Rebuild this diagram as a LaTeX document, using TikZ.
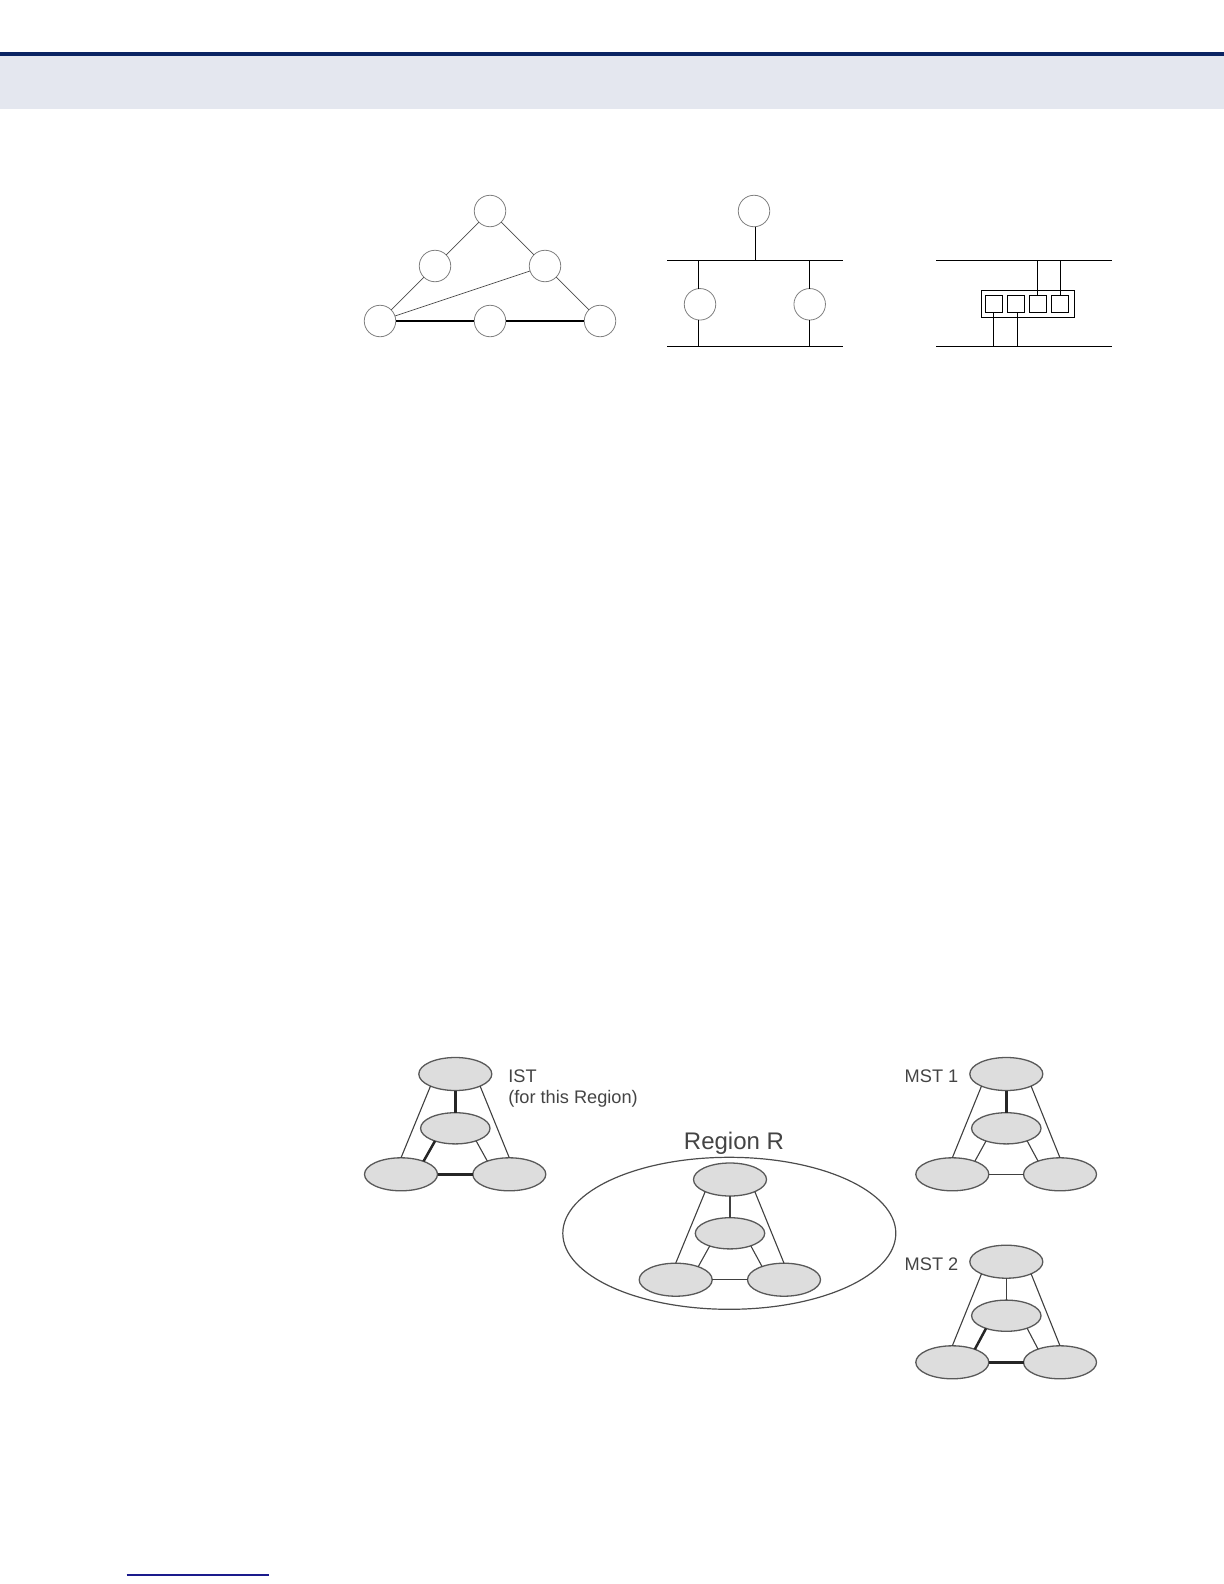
\documentclass[tikz,border=0pt]{standalone}
\usepackage{fontspec}
\setmainfont{Liberation Sans}
\usepackage{tikz}
\usetikzlibrary{shapes.geometric}
\definecolor{headnavy}{HTML}{0A2463}
\definecolor{headband}{HTML}{E4E7EF}
\definecolor{footblue}{HTML}{1A1A8C}
\definecolor{bridgefill}{HTML}{DDDDDD}
\definecolor{labelgray}{HTML}{444444}

\begin{document}
\begin{tikzpicture}[
  x=0.5pt, y=-0.5pt,
  node/.style={draw=gray, circle, line width=0.4pt, minimum size=15.75pt, inner sep=0pt, outer sep=0pt},
  port/.style={draw, line width=0.6pt, minimum size=8.7pt, inner sep=0pt, outer sep=0pt},
  case/.style={draw, line width=0.6pt, minimum width=46.7pt, minimum height=13.5pt, inner sep=0pt, outer sep=0pt},
  bridge/.style={draw=black!65, ellipse, fill=bridgefill, line width=0.65pt, minimum width=36.5pt, minimum height=16.5pt, inner sep=0pt, outer sep=0pt},
  midbridge/.style={bridge, minimum width=34.7pt, minimum height=15.6pt},
  region/.style={draw=black!70, ellipse, line width=0.6pt, minimum width=166.5pt, minimum height=76pt, inner sep=0pt, outer sep=0pt},
  link/.style={line width=0.55pt, black!75},
  tree/.style={line width=1.25pt, black!85},
  lan/.style={line width=0.6pt, black},
  diag/.style={line width=0.35pt, black!70},
  tag/.style={font=\fontsize{9.1}{10.5}\selectfont, text=labelgray, align=left, inner sep=0pt, outer sep=0pt}
]
\useasboundingbox (0,0) rectangle (1224,1584);

% page header and footer rule
\node[fill=headband, minimum width=612pt, minimum height=26.5pt, inner sep=0pt, outer sep=0pt] (band) at (612,82.2) {};
\node[fill=headnavy, minimum width=612pt, minimum height=2pt, inner sep=0pt, outer sep=0pt] (rule) at (612,54) {};
\coordinate (footl) at (126.7,1575);
\coordinate (footr) at (269,1575);
\draw[footblue, line width=0.65pt] (footl) -- (footr);

% looped network
\node[node] (n1) at (490,211) {};
\node[node] (n2) at (435,266) {};
\node[node] (n3) at (545,266) {};
\node[node] (n4) at (380,321) {};
\node[node] (n5) at (490,321) {};
\node[node] (n6) at (600,321) {};
\draw[diag] (n1) -- (n2);
\draw[diag] (n1) -- (n3);
\draw[diag] (n2) -- (n4);
\draw[diag] (n3) -- (n6);
\draw[diag] (n3) -- (n4);
\draw[lan] (n4) -- (n5);
\draw[lan] (n5) -- (n6);

% two segments with parallel bridges
\coordinate (lan1a) at (667,260.3);
\coordinate (lan1b) at (842.7,260.3);
\coordinate (lan2a) at (667,346.3);
\coordinate (lan2b) at (842.7,346.3);
\coordinate (tap0) at (755.7,260.3);
\coordinate (tap1) at (698.3,260.3);
\coordinate (tap2) at (809.3,260.3);
\coordinate (tap3) at (698.3,346.3);
\coordinate (tap4) at (809.3,346.3);
\node[node] (p1) at (754,211) {};
\node[node] (p2) at (700,304.3) {};
\node[node] (p3) at (809.7,304.3) {};
\draw[lan] (lan1a) -- (lan1b);
\draw[lan] (lan2a) -- (lan2b);
\draw[lan] (tap0) -- (tap0 |- p1.south);
\draw[lan] (tap1) -- (tap1 |- p2.north);
\draw[lan] (tap2) -- (tap2 |- p3.north);
\draw[lan] (tap3) -- (tap3 |- p2.south);
\draw[lan] (tap4) -- (tap4 |- p3.south);

% switch with four ports
\coordinate (lan3a) at (936,260.3);
\coordinate (lan3b) at (1112,260.3);
\coordinate (lan4a) at (936,346.3);
\coordinate (lan4b) at (1112,346.3);
\coordinate (tap5) at (1037.3,260.3);
\coordinate (tap6) at (1060.3,260.3);
\coordinate (tap7) at (993.3,346.3);
\coordinate (tap8) at (1017.3,346.3);
\node[case] (sw) at (1028,303.8) {};
\node[port] (s1) at (994,304) {};
\node[port] (s2) at (1016,304) {};
\node[port] (s3) at (1038,304) {};
\node[port] (s4) at (1060,304) {};
\draw[lan] (lan3a) -- (lan3b);
\draw[lan] (lan4a) -- (lan4b);
\draw[lan] (tap5) -- (tap5 |- s3.north);
\draw[lan] (tap6) -- (tap6 |- s4.north);
\draw[lan] (tap7) -- (tap7 |- s1.south);
\draw[lan] (tap8) -- (tap8 |- s2.south);

% IST
\node[bridge] (it) at (455.3,1074) {};
\node[midbridge] (im) at (455.3,1128.3) {};
\node[bridge] (il) at (401,1174.3) {};
\node[bridge] (ir) at (509.3,1174.3) {};
\draw[link] (it.206) -- (il.north);
\draw[link] (it.334) -- (ir.north);
\draw[tree] (it) -- (im);
\draw[tree] (im.212) -- (il.30);
\draw[link] (im.329) -- (ir.149);
\draw[tree] (il) -- (ir);
\node[tag, anchor=west] (ist) at (508.3,1089) {IST\\(for this Region)};

% Region R
\node[region] (reg) at (729.3,1233.3) {};
\node[bridge] (rt) at (730,1179.5) {};
\node[midbridge] (rm) at (730,1233.3) {};
\node[bridge] (rl) at (675.7,1279.7) {};
\node[bridge] (rr) at (784,1279.7) {};
\draw[link] (rt.206) -- (rl.north);
\draw[link] (rt.334) -- (rr.north);
\draw[link] (rt) -- (rm);
\draw[link] (rm.212) -- (rl.30);
\draw[link] (rm.329) -- (rr.149);
\draw[link] (rl) -- (rr);
\node[tag, font=\fontsize{12}{14}\selectfont] (regname) at (734,1143.5) {Region R};

% MST 1
\node[bridge] (at) at (1006.3,1074) {};
\node[midbridge] (am) at (1006.3,1128.3) {};
\node[bridge] (al) at (952.3,1174.3) {};
\node[bridge] (ar) at (1060,1174.3) {};
\draw[link] (at.206) -- (al.north);
\draw[link] (at.334) -- (ar.north);
\draw[tree] (at) -- (am);
\draw[link] (am.212) -- (al.30);
\draw[link] (am.329) -- (ar.149);
\draw[link] (al) -- (ar);
\node[tag, anchor=base west] (mst1) at (904.7,1082) {MST 1};

% MST 2
\node[bridge] (bt) at (1006.3,1261.7) {};
\node[midbridge] (bm) at (1006.3,1315.7) {};
\node[bridge] (bl) at (952.3,1362.3) {};
\node[bridge] (br) at (1060,1362.3) {};
\draw[link] (bt.206) -- (bl.north);
\draw[link] (bt.334) -- (br.north);
\draw[link] (bt) -- (bm);
\draw[tree] (bm.212) -- (bl.30);
\draw[link] (bm.329) -- (br.149);
\draw[tree] (bl) -- (br);
\node[tag, anchor=base west] (mst2) at (904.7,1270) {MST 2};
\end{tikzpicture}
\end{document}
